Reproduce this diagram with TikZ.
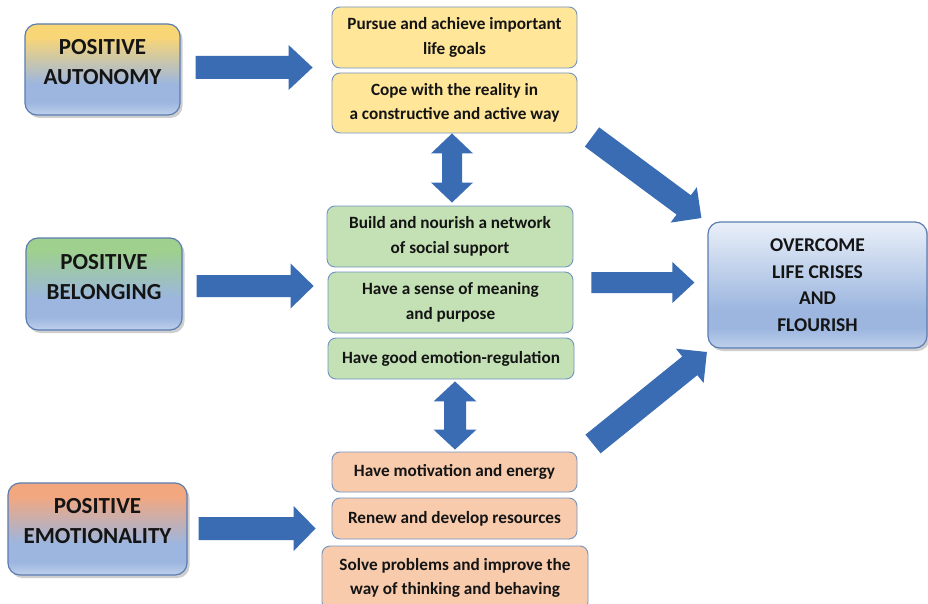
\documentclass[tikz,border=0pt]{standalone}
\usepackage{fontspec}
\setmainfont{Carlito}
\usetikzlibrary{calc,shadows}

\definecolor{arrowblue}{HTML}{3A6CB4}
\definecolor{edgeblue}{HTML}{5B7DB1}
\definecolor{thinedge}{HTML}{7393C2}
\definecolor{txt}{HTML}{141414}
\definecolor{skyblue}{HTML}{9CB6DF}
\definecolor{skylight}{HTML}{BACDEA}
\definecolor{yeltop}{HTML}{F9D675}
\definecolor{grntop}{HTML}{9FD08E}
\definecolor{orgtop}{HTML}{F3A77F}
\definecolor{restop}{HTML}{EAF0F9}
\definecolor{yelfill}{HTML}{FFE699}
\definecolor{grnfill}{HTML}{C3E1B5}
\definecolor{orgfill}{HTML}{F8CBAD}

% vertical shadings: 25bp = bottom edge, 75bp = top edge
\pgfdeclareverticalshading{shAut}{100bp}{color(0bp)=(skylight); color(26bp)=(skylight); color(32bp)=(skyblue); color(42bp)=(skyblue); color(68bp)=(yeltop); color(100bp)=(yeltop)}
\pgfdeclareverticalshading{shBel}{100bp}{color(0bp)=(skylight); color(26bp)=(skylight); color(32bp)=(skyblue); color(42bp)=(skyblue); color(68bp)=(grntop); color(100bp)=(grntop)}
\pgfdeclareverticalshading{shEmo}{100bp}{color(0bp)=(skylight); color(26bp)=(skylight); color(32bp)=(skyblue); color(42bp)=(skyblue); color(68bp)=(orgtop); color(100bp)=(orgtop)}
\pgfdeclareverticalshading{shRes}{100bp}{color(0bp)=(skylight); color(26bp)=(skylight); color(33bp)=(skyblue); color(40bp)=(skyblue); color(75bp)=(restop); color(100bp)=(restop)}

\tikzset{
  bigbox/.style={rectangle, rounded corners=12pt, draw=edgeblue, line width=1.2pt,
    drop shadow={shadow xshift=2.5pt, shadow yshift=-3pt, opacity=0.35, fill=black!55}},
  bigtext/.style={text=txt, align=center, inner sep=0pt, font=\fontsize{23}{30}\selectfont\bfseries},
  smallbox/.style={rectangle, rounded corners=8pt, draw=thinedge, line width=0.9pt,
    text=txt, align=center, font=\fontsize{17.2}{24.5}\selectfont\bfseries},
}

% straight block arrow from #1 to #2: shaft width #3, head width #4, head length #5
\newcommand\blockarrow[5]{%
  \path (#1) coordinate (bas) (#2) coordinate (bae);
  \pgfpointdiff{\pgfpointanchor{bas}{center}}{\pgfpointanchor{bae}{center}}%
  \pgfgetlastxy{\bax}{\bay}%
  \pgfmathsetmacro\baang{atan2(\bay,\bax)}%
  \pgfmathsetmacro\balen{veclen(\bax,\bay)}%
  \fill[arrowblue, shift={(bas)}, rotate=\baang, x=1pt, y=1pt]
    (0,{-#3/2}) -- ({\balen-#5},{-#3/2}) -- ({\balen-#5},{-#4/2}) -- (\balen,0)
    -- ({\balen-#5},{#4/2}) -- ({\balen-#5},{#3/2}) -- (0,{#3/2}) -- cycle;
}
% block arrow with a head at both ends
\newcommand\dblblockarrow[5]{%
  \path (#1) coordinate (bas) (#2) coordinate (bae);
  \pgfpointdiff{\pgfpointanchor{bas}{center}}{\pgfpointanchor{bae}{center}}%
  \pgfgetlastxy{\bax}{\bay}%
  \pgfmathsetmacro\baang{atan2(\bay,\bax)}%
  \pgfmathsetmacro\balen{veclen(\bax,\bay)}%
  \fill[arrowblue, shift={(bas)}, rotate=\baang, x=1pt, y=1pt]
    (0,0) -- (#5,{#4/2}) -- (#5,{#3/2}) -- ({\balen-#5},{#3/2}) -- ({\balen-#5},{#4/2})
    -- (\balen,0) -- ({\balen-#5},{-#4/2}) -- ({\balen-#5},{-#3/2}) -- (#5,{-#3/2})
    -- (#5,{-#4/2}) -- cycle;
}

\begin{document}
\begin{tikzpicture}[x=1pt, y=-1pt]
\useasboundingbox[fill=white] (0,0) rectangle (928,604);

% three sources: shaded boxes with their titles set in the upper part
\node[bigbox, shading=shAut, minimum width=155pt, minimum height=91pt] (pa) at (102.5,69.5) {};
\node[bigtext] (pa-t) at ($(pa.center)+(0,-7.5)$) {POSITIVE\\AUTONOMY};
\node[bigbox, shading=shBel, minimum width=156pt, minimum height=92pt] (pb) at (104,284) {};
\node[bigtext] (pb-t) at ($(pb.center)+(0,-7)$) {POSITIVE\\BELONGING};
\node[bigbox, shading=shEmo, minimum width=179pt, minimum height=92pt] (pe) at (97.5,529) {};
\node[bigtext] (pe-t) at ($(pe.center)+(0,-7.5)$) {POSITIVE\\EMOTIONALITY};

% autonomy outcomes
\node[smallbox, fill=yelfill, minimum width=245pt, minimum height=61pt] (y1) at (454.5,37.5) {Pursue and achieve important\\life goals};
\node[smallbox, fill=yelfill, minimum width=245pt, minimum height=60pt] (y2) at (454.5,103) {Cope with the reality in\\a constructive and active way};

% belonging outcomes
\node[smallbox, fill=grnfill, minimum width=246pt, minimum height=61pt] (g1) at (450,236.5) {Build and nourish a network\\of social support};
\node[smallbox, fill=grnfill, minimum width=245pt, minimum height=61pt] (g2) at (450.5,302.5) {Have a sense of meaning\\and purpose};
\node[smallbox, fill=grnfill, minimum width=246pt, minimum height=41pt] (g3) at (451,358.5) {Have good emotion-regulation};

% emotionality outcomes
\node[smallbox, fill=orgfill, minimum width=245pt, minimum height=40pt] (o1) at (454.5,472) {Have motivation and energy};
\node[smallbox, fill=orgfill, minimum width=245pt, minimum height=41pt] (o2) at (454.5,518.5) {Renew and develop resources};
\node[smallbox, fill=orgfill, minimum width=266pt, minimum height=64pt] (o3) at (455,578) {Solve problems and improve the\\way of thinking and behaving};

% result
\node[bigbox, shading=shRes, minimum width=219pt, minimum height=126pt, text=txt, align=center, font=\fontsize{19.5}{26.5}\selectfont\bfseries] (res) at (817.5,285) {OVERCOME\\LIFE CRISES\\AND\\FLOURISH};

% arrows from sources to outcomes
\blockarrow{$(pa.east)+(15,-2)$}{$(pa.east)+(132,-2)$}{23}{45}{24}
\blockarrow{$(pb.east)+(14,2)$}{$(pb.east)+(131,2)$}{22}{45}{23}
\blockarrow{$(pe.east)+(11,-0.5)$}{$(pe.east)+(128,-0.5)$}{23}{45}{22}

% links between outcome groups
\coordinate (d1a) at ($(y2.south)+(-2.5,0)$);
\coordinate (d1b) at ($(g1.north)+(2,-3)$);
\dblblockarrow{d1a}{d1b}{20}{42}{20}
\coordinate (d2a) at ($(g3.south)+(4,2)$);
\coordinate (d2b) at ($(o1.north)+(0.5,-2)$);
\dblblockarrow{d2a}{d2b}{22}{43}{20}

% arrows into the result
\coordinate (r1a) at (592,137);
\coordinate (r2a) at ($(g2.east)+(18,-20)$);
\coordinate (r3a) at (593,444);
\blockarrow{r1a}{$(res.west)+(-6,-67)$}{24}{44}{22}
\blockarrow{r2a}{$(res.west)+(-13,-2.5)$}{21}{41}{22}
\blockarrow{r3a}{$(res.west)+(-0.5,67)$}{24}{44}{22}
\end{tikzpicture}
\end{document}
